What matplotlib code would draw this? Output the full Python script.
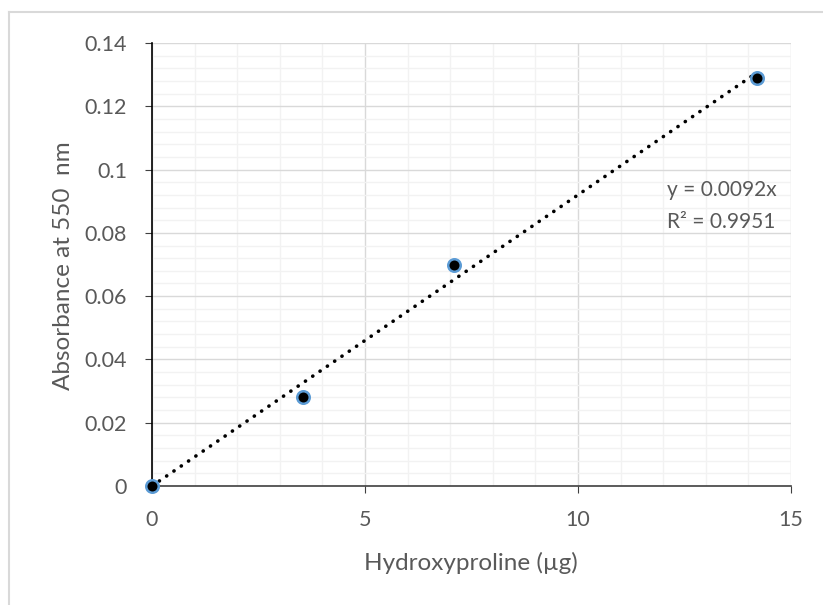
import matplotlib
matplotlib.use("Agg")
import matplotlib.pyplot as plt
from matplotlib.ticker import MultipleLocator
from matplotlib.lines import Line2D
import numpy as np

x_vals = [0, 3.55, 7.1, 14.2]
y_vals = [0, 0.028, 0.070, 0.129]
slope = 0.0092
eq_text = "y = 0.0092x"
r2_text = "R² = 0.9951"
x_ticks = [0, 5, 10, 15]
y_ticks = [0, 0.02, 0.04, 0.06, 0.08, 0.1, 0.12, 0.14]
y_tick_labels = ["0", "0.02", "0.04", "0.06", "0.08", "0.1", "0.12", "0.14"]
x_label = "Hydroxyproline (µg)"
y_label = "Absorbance at 550  nm"

plt.rcParams['font.family'] = ['Lato', 'DejaVu Sans']
grey = "#595959"

fig = plt.figure(figsize=(8.23, 6.05), dpi=100)
ax = fig.add_axes([152/823, 1-486/605, (791-152)/823, (486-43)/605])

# outer chart border
fig.add_artist(Line2D([9/823, 9/823], [0, 1-12/605], color="#d9d9d9", lw=1.5, transform=fig.transFigure))
fig.add_artist(Line2D([9/823, 1], [1-12/605, 1-12/605], color="#d9d9d9", lw=1.5, transform=fig.transFigure))

ax.set_xlim(0, 15)
ax.set_ylim(0, 0.14)
ax.set_xticks(x_ticks)
ax.set_yticks(y_ticks)
ax.set_yticklabels(y_tick_labels)
ax.xaxis.set_minor_locator(MultipleLocator(1))
ax.yaxis.set_minor_locator(MultipleLocator(0.004))
ax.grid(which="major", color="#d9d9d9", lw=1)
ax.grid(which="minor", color="#f2f2f2", lw=1)
ax.set_axisbelow(True)
ax.tick_params(which="minor", length=0)
ax.tick_params(which="major", direction="out", length=5, colors="#404040", labelcolor=grey, labelsize=15.5)
ax.tick_params(axis="x", pad=12)
ax.tick_params(axis="y", pad=13)

for s in ["top", "right"]:
    ax.spines[s].set_visible(False)
ax.spines["left"].set_color("black")
ax.spines["bottom"].set_color("#404040")
ax.spines["left"].set_linewidth(1.2)
ax.spines["bottom"].set_linewidth(1.2)

xt = np.array([0, max(x_vals)])
ax.plot(xt, slope * xt, color="black", lw=2.6, linestyle=(0, (0.05, 2.4)),
        dash_capstyle="round", zorder=3)
ax.plot(x_vals, y_vals, linestyle="none", marker="o", markersize=9,
        markerfacecolor="black", markeredgecolor="#5B9BD5", markeredgewidth=1.8,
        zorder=4, clip_on=False)

ax.text(12.09, 0.0935, eq_text, color=grey, fontsize=15, ha="left", va="center")
ax.text(12.09, 0.0834, r2_text, color=grey, fontsize=15, ha="left", va="center")

fig.text(471/823, 1-563/605, x_label, color=grey, fontsize=17.5, ha="center", va="center")
fig.text(63/823, 1-266/605, y_label, color=grey, fontsize=17.5, ha="center", va="center", rotation=90)

fig.savefig("out.png", dpi=100)
